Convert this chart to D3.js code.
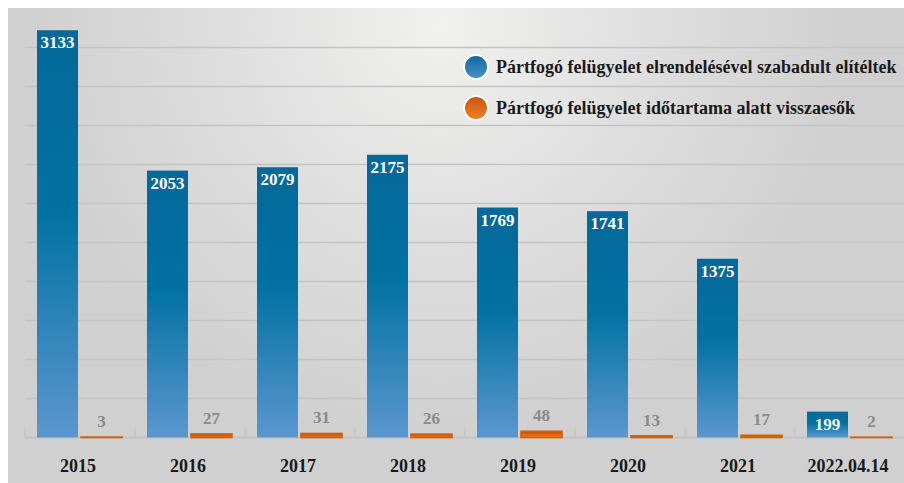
<!DOCTYPE html>
<html>
<head>
<meta charset="utf-8">
<script src="https://cdn.jsdelivr.net/npm/d3@7"></script>
<style>
  body { margin: 0; background: #fff; }
  svg { display: block; }
</style>
</head>
<body>
<svg id="chart" width="904" height="483"></svg>
<script>
const years = ["2015", "2016", "2017", "2018", "2019", "2020", "2021", "2022.04.14"];
const released = [3133, 2053, 2079, 2175, 1769, 1741, 1375, 199];
const reoffended = [3, 27, 31, 26, 48, 13, 17, 2];
const seriesNames = [
  "Pártfogó felügyelet elrendelésével szabadult elítéltek",
  "Pártfogó felügyelet időtartama alatt visszaesők"
];
const gridValues = d3.range(300, 3001, 300);

const rows = years.map((y, i) => ({year: y, released: released[i], reoffended: reoffended[i]}));

const width = 904, height = 483;
const svg = d3.select('#chart');
const defs = svg.append('defs');

// background
const bg = defs.append('radialGradient')
  .attr('id', 'bgGrad')
  .attr('gradientUnits', 'userSpaceOnUse')
  .attr('cx', 440).attr('cy', 25).attr('r', 420);
bg.append('stop').attr('offset', '0%').attr('stop-color', '#f1f1f0');
bg.append('stop').attr('offset', '55%').attr('stop-color', '#dcdddc');
bg.append('stop').attr('offset', '100%').attr('stop-color', '#cfd0cf');

const blueGrad = defs.append('linearGradient')
  .attr('id', 'blueGrad').attr('x1', 0).attr('y1', 0).attr('x2', 0).attr('y2', 1);
blueGrad.append('stop').attr('offset', '0%').attr('stop-color', '#04689a');
blueGrad.append('stop').attr('offset', '45%').attr('stop-color', '#0272a3');
blueGrad.append('stop').attr('offset', '100%').attr('stop-color', '#5b97cf');

const orangeGrad = defs.append('linearGradient')
  .attr('id', 'orangeGrad').attr('x1', 0).attr('y1', 0).attr('x2', 0).attr('y2', 1);
orangeGrad.append('stop').attr('offset', '0%').attr('stop-color', '#c44d00');
orangeGrad.append('stop').attr('offset', '100%').attr('stop-color', '#ec7a22');

const blueDot = defs.append('linearGradient')
  .attr('id', 'blueDot').attr('x1', 0).attr('y1', 0).attr('x2', 0).attr('y2', 1);
blueDot.append('stop').attr('offset', '0%').attr('stop-color', '#0d6aa0');
blueDot.append('stop').attr('offset', '100%').attr('stop-color', '#4b8fc8');

const orangeDot = defs.append('linearGradient')
  .attr('id', 'orangeDot').attr('x1', 0).attr('y1', 0).attr('x2', 0).attr('y2', 1);
orangeDot.append('stop').attr('offset', '0%').attr('stop-color', '#c9560a');
orangeDot.append('stop').attr('offset', '100%').attr('stop-color', '#ec8228');

svg.append('rect')
  .attr('x', 8).attr('y', 8)
  .attr('width', width - 8).attr('height', height - 8)
  .attr('fill', 'url(#bgGrad)');

const xScale = d3.scaleBand()
  .domain(years)
  .range([25, 905]);

const xSub = d3.scaleBand()
  .domain(['released', 'reoffended'])
  .range([12, 97])
  .paddingInner(0.068);

const yScale = d3.scaleLinear()
  .domain([0, 3000])
  .range([437.5, 47.5]);

// gridlines
svg.append('g')
  .selectAll('line')
  .data(gridValues)
  .join('line')
    .attr('x1', 25).attr('x2', width)
    .attr('y1', d => yScale(d)).attr('y2', d => yScale(d))
    .attr('stroke', '#c3c4c3')
    .attr('stroke-width', 1.5);

// x axis
const xAxis = svg.append('g')
  .attr('transform', `translate(0, ${yScale(0)})`)
  .call(d3.axisBottom(xScale).tickSize(0).tickPadding(22));
xAxis.select('.domain')
  .attr('d', `M25,0H${width}`)
  .attr('stroke', '#c3c4c3')
  .attr('stroke-width', 2);
xAxis.selectAll('.tick text')
  .attr('dx', -2)
  .attr('font-family', '"Liberation Serif", "Times New Roman", serif')
  .attr('font-weight', 'bold')
  .attr('font-size', 18)
  .attr('fill', '#1a1a1a');
xAxis.selectAll('.sep')
  .data(years)
  .join('line')
    .attr('class', 'sep')
    .attr('x1', d => xScale(d)).attr('x2', d => xScale(d))
    .attr('y1', 0).attr('y2', -10)
    .attr('stroke', '#c3c4c3')
    .attr('stroke-width', 1.5);

const groups = svg.append('g')
  .selectAll('g')
  .data(rows)
  .join('g')
    .attr('transform', d => `translate(${xScale(d.year)}, 0)`);

groups.append('rect')
  .attr('x', xSub('released'))
  .attr('y', d => yScale(d.released))
  .attr('width', xSub.bandwidth())
  .attr('height', d => yScale(0) - yScale(d.released))
  .attr('fill', 'url(#blueGrad)');

groups.append('rect')
  .attr('x', xSub('reoffended'))
  .attr('y', d => yScale(d.reoffended))
  .attr('width', xSub.bandwidth())
  .attr('height', d => yScale(0) - yScale(d.reoffended))
  .attr('fill', 'url(#orangeGrad)')
  .attr('stroke', '#d25e0c')
  .attr('stroke-width', 1.6);

groups.append('text')
  .attr('x', xSub('released') + xSub.bandwidth() / 2)
  .attr('y', d => yScale(d.released) + 18)
  .attr('text-anchor', 'middle')
  .attr('font-family', '"Liberation Serif", "Times New Roman", serif')
  .attr('font-weight', 'bold')
  .attr('font-size', 17)
  .attr('fill', '#ffffff')
  .text(d => d.released);

groups.append('text')
  .attr('x', xSub('reoffended') + xSub.bandwidth() / 2)
  .attr('y', d => yScale(d.reoffended) - 10)
  .attr('text-anchor', 'middle')
  .attr('font-family', '"Liberation Serif", "Times New Roman", serif')
  .attr('font-weight', 'bold')
  .attr('font-size', 17)
  .attr('fill', '#8a8a8a')
  .text(d => d.reoffended);

// legend
const legend = svg.append('g')
  .attr('transform', 'translate(476, 67)');
const legendItems = legend.selectAll('g')
  .data(seriesNames)
  .join('g')
    .attr('transform', (d, i) => `translate(0, ${i * 41})`);
legendItems.append('circle')
  .attr('r', 12)
  .attr('fill', (d, i) => i === 0 ? 'url(#blueDot)' : 'url(#orangeDot)')
  .attr('stroke', '#ffffff')
  .attr('stroke-width', 2);
legendItems.append('text')
  .attr('x', 20)
  .attr('y', 6)
  .attr('font-family', '"Liberation Serif", "Times New Roman", serif')
  .attr('font-weight', 'bold')
  .attr('font-size', 18)
  .attr('fill', '#1a1a1a')
  .text(d => d);
</script>
</body>
</html>
